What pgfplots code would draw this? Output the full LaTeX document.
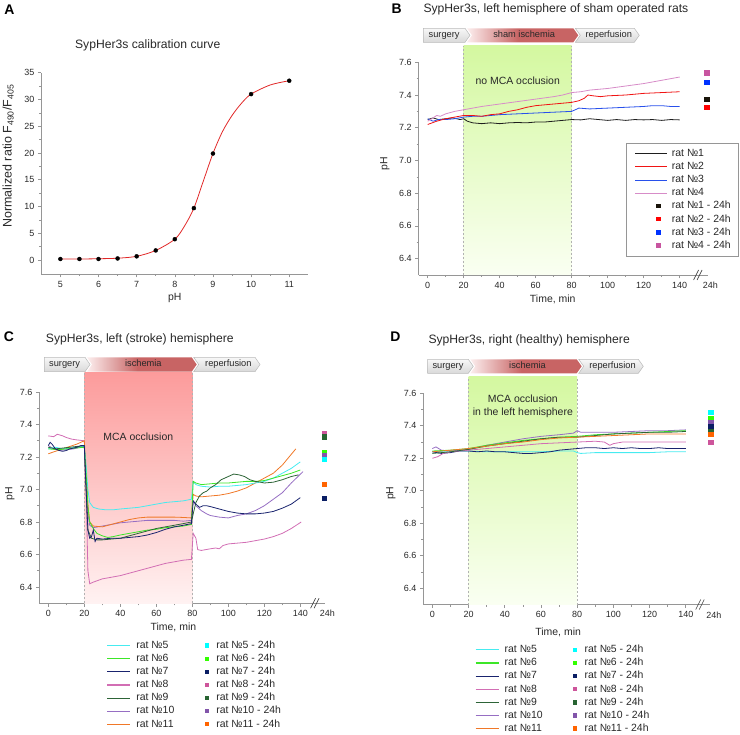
\documentclass[border=0pt]{standalone}
\usepackage{fontspec}
\setmainfont{Liberation Sans}
\usepackage{pgfplots}
\pgfplotsset{compat=1.18}

\definecolor{axgray}{RGB}{150,150,150}
\definecolor{txt}{RGB}{40,40,40}
\definecolor{r1}{RGB}{30,30,30}
\definecolor{r2}{RGB}{240,20,20}
\definecolor{r3}{RGB}{40,80,235}
\definecolor{r4}{RGB}{215,140,200}
\definecolor{s1}{RGB}{25,20,10}
\definecolor{s2}{RGB}{255,0,0}
\definecolor{s3}{RGB}{0,50,255}
\definecolor{s4}{RGB}{200,85,160}
\definecolor{c5}{RGB}{70,235,240}
\definecolor{c6}{RGB}{60,230,40}
\definecolor{c7}{RGB}{25,35,110}
\definecolor{c8}{RGB}{210,110,180}
\definecolor{c9}{RGB}{45,100,55}
\definecolor{c10}{RGB}{150,110,195}
\definecolor{c11}{RGB}{240,120,40}
\definecolor{q5}{RGB}{0,255,255}
\definecolor{q6}{RGB}{50,255,0}
\definecolor{q7}{RGB}{10,30,100}
\definecolor{q8}{RGB}{205,85,155}
\definecolor{q9}{RGB}{40,100,50}
\definecolor{q10}{RGB}{130,85,170}
\definecolor{q11}{RGB}{255,100,0}
\definecolor{gTop}{RGB}{212,248,160}
\definecolor{gBot}{RGB}{250,255,242}
\definecolor{pTop}{RGB}{252,155,155}
\definecolor{pBot}{RGB}{255,242,242}
\definecolor{bannerL}{RGB}{252,238,238}
\definecolor{bannerR}{RGB}{200,100,100}
\definecolor{acurve}{RGB}{225,40,40}

\pgfdeclarehorizontalshading{isch}{100bp}{color(0bp)=(bannerL); color(25bp)=(bannerL); color(48bp)=(bannerR); color(100bp)=(bannerR)}

\newcommand{\tfont}{\fontsize{9}{10}\selectfont}
\newcommand{\lfont}{\fontsize{10.5}{12}\selectfont}
\newcommand{\bfont}{\fontsize{9.3}{11}\selectfont}
\newcommand{\ttfont}{\fontsize{12.2}{14}\selectfont}

\newcommand{\lnimgB}[1]{\addlegendimage{legend image code/.code={\path[draw=none,fill=none] (-5bp,-2bp) rectangle (33.7bp,2bp); \draw[draw=#1,fill=none,line width=0.9bp] (0bp,0bp) -- (31.7bp,0bp);}}}
\newcommand{\sqimgB}[1]{\addlegendimage{legend image code/.code={\path[draw=none,fill=none] (-5bp,-2bp) rectangle (33.7bp,2bp); \fill[fill=#1,draw=none] (21.1bp,-2.2bp) rectangle (25.5bp,2.2bp);}}}
\newcommand{\lnimg}[1]{\addlegendimage{legend image code/.code={\path[draw=none,fill=none] (0bp,-2bp) rectangle (26bp,2bp); \draw[draw=#1,fill=none,line width=1.1bp] (0bp,0bp) -- (23bp,0bp);}}}
\newcommand{\sqimg}[1]{\addlegendimage{legend image code/.code={\path[draw=none,fill=none] (-2.5bp,-2bp) rectangle (6.5bp,2bp); \fill[fill=#1,draw=none] (-2.2bp,-2.2bp) rectangle (2.2bp,2.2bp);}}}

\newcommand{\banner}[7]{%
 \begin{scope}[x=1bp,y=1bp]
 \pgfmathsetmacro{\ym}{(#5+#6)/2}%
 \draw[draw=gray!55, line width=0.5bp, top color=gray!6, bottom color=gray!30] (#1,#5) -- ({#2-5},#5) -- (#2,\ym) -- ({#2-5},#6) -- (#1,#6) -- cycle;
 \shade[shading=isch] ({#2-3},#5) -- ({#3-5},#5) -- (#3,\ym) -- ({#3-5},#6) -- ({#2-3},#6) -- ({#2+2},\ym) -- cycle;
 \draw[draw=gray!55, line width=0.5bp, top color=gray!6, bottom color=gray!30] ({#3-3},#5) -- ({#4-5},#5) -- (#4,\ym) -- ({#4-5},#6) -- ({#3-3},#6) -- ({#3+2},\ym) -- cycle;
 \node[font=\bfont, text=txt, inner sep=0pt, text height=6.7bp, text depth=1.9bp] at ({(#1+#2-5)/2},\ym) {surgery};
 \node[font=\bfont, text=txt, inner sep=0pt, text height=6.7bp, text depth=1.9bp] at ({(#2+#3)/2},\ym) {#7};
 \node[font=\bfont, text=txt, inner sep=0pt, text height=6.7bp, text depth=1.9bp] at ({(#3+#4)/2},\ym) {reperfusion};
 \end{scope}
}

\pgfplotsset{
 base/.style={scale only axis, axis lines=left, axis line style={-, draw=axgray, line width=0.6bp},
   tick style={draw=axgray, line width=0.6bp}, tick align=outside, major tick length=3.5bp, minor tick length=2bp,
   tick label style={font=\tfont, text=txt}, label style={font=\lfont, text=txt},
   /pgf/number format/assume math mode=true, clip=false, anchor=south west},
 tax/.style={base, xmin=-5, ymin=6.3, ymax=7.6, xtick={0,20,40,60,80,100,120,140},
   ytick={6.4,6.6,6.8,7.0,7.2,7.4,7.6}, minor x tick num=1, minor y tick num=1,
   yticklabel style={/pgf/number format/.cd, fixed, fixed zerofill, precision=1},
   ylabel={pH}, xlabel={Time, min}},
 tr/.style={line width=0.8bp, forget plot},
 sq/.style={only marks, mark=square*, mark size=2.2bp, mark options={draw=none}, forget plot},
}

\begin{document}
\begin{tikzpicture}
\path[use as bounding box] (0bp,0bp) rectangle (740bp,735bp);

\begin{scope}[x=1bp,y=1bp]
\node[font=\fontsize{14}{16}\selectfont\bfseries] at (9.5,725) {A};
\node[font=\fontsize{14}{16}\selectfont\bfseries] at (396.7,726) {B};
\node[font=\fontsize{14}{16}\selectfont\bfseries] at (9,398) {C};
\node[font=\fontsize{14}{16}\selectfont\bfseries] at (395.3,398) {D};
\node[font=\ttfont, text=txt] at (147.7,690) {SypHer3s calibration curve};
\node[font=\ttfont, text=txt, anchor=west, inner sep=0pt] at (423.3,726) {SypHer3s, left hemisphere of sham operated rats};
\node[font=\ttfont, text=txt, anchor=west, inner sep=0pt] at (45.7,396) {SypHer3s, left (stroke) hemisphere};
\node[font=\ttfont, text=txt, anchor=west, inner sep=0pt] at (428.3,395) {SypHer3s, right (healthy) hemisphere};
\end{scope}

% ---------- Panel A ----------
\begin{axis}[base, at={(41.3bp,461bp)}, width=267bp, height=201.3bp,
  xmin=4.5, xmax=11.5, ymin=-2.6, ymax=35, xtick={5,6,7,8,9,10,11}, ytick={0,5,10,15,20,25,30,35},
  minor x tick num=1, minor y tick num=1,
  xlabel={pH}, ylabel={Normalized ratio F\textsubscript{490}/F\textsubscript{405}},
  ylabel style={at={(axis description cs:-0.124,0.586)}, anchor=center, font=\fontsize{12.5}{14}\selectfont},
  xlabel style={at={(axis description cs:0.5,-0.121)}, anchor=center}]
\addplot[acurve, line width=0.8bp, smooth, tension=0.5] coordinates {
 (5,0.2) (5.5,0.2) (6,0.25) (6.5,0.35) (7,0.7) (7.5,1.8) (8,3.9) (8.25,6.3) (8.5,9.7)
 (8.75,14.8) (9,19.9) (9.25,24.0) (9.5,27.0) (9.75,29.3) (10,31.0) (10.5,32.7) (11,33.5)};
\addplot[only marks, mark=*, mark size=2bp, black] coordinates {
 (5,0.2) (5.5,0.2) (6,0.2) (6.5,0.3) (7,0.7) (7.5,1.8) (8,3.9) (8.5,9.7) (9,19.9) (10,31.0) (11,33.5)};
\end{axis}

% ---------- Panel B ----------
\banner{423.3}{470}{578.3}{639.3}{706.7}{692.7}{sham ischemia}
\begin{axis}[tax, at={(418.7bp,460bp)}, width=288.9bp, height=212.7bp, xmax=155.5,
  ylabel style={at={(axis description cs:-0.117,0.525)}, anchor=center},
  xlabel style={at={(axis description cs:0.464,-0.113)}, anchor=center},
  legend style={at={(axis description cs:1.1052,0.6192)}, anchor=north east, draw=axgray, fill=white,
    font=\lfont, text=txt, cells={anchor=west}, inner xsep=4bp, inner ysep=4bp, row sep=0.5bp,
    nodes={inner xsep=3bp, inner ysep=1.5bp, text height=7.6bp, text depth=2bp}}]
\addplot[draw=none, top color=gTop, bottom color=gBot, forget plot] coordinates {(20,6.3) (80,6.3) (80,7.7) (20,7.7)} -- cycle;
\addplot[gray!60, dash pattern=on 2bp off 2bp, line width=0.5bp, forget plot] coordinates {(20,6.3) (20,7.7)};
\addplot[gray!60, dash pattern=on 2bp off 2bp, line width=0.5bp, forget plot] coordinates {(80,6.3) (80,7.7)};
\node[font=\lfont, text=txt] at (axis cs:50,7.49) {no MCA occlusion};
\addplot[tr, r1] coordinates {(0,7.25) (3,7.26) (6,7.25) (10,7.255) (14,7.26) (18,7.25) (20,7.255) (22,7.24) (25,7.23) (30,7.225) (35,7.23) (40,7.225) (45,7.23) (50,7.232) (55,7.23) (60,7.235) (65,7.235) (70,7.24) (75,7.245) (80,7.25) (85,7.248) (90,7.255) (95,7.25) (100,7.245) (105,7.25) (110,7.245) (115,7.25) (120,7.248) (125,7.25) (130,7.245) (135,7.25) (140,7.248)};
\addplot[tr, r3] coordinates {(0,7.255) (3,7.24) (6,7.25) (10,7.25) (15,7.255) (20,7.265) (25,7.27) (30,7.27) (40,7.28) (50,7.285) (60,7.29) (70,7.295) (80,7.30) (82,7.31) (84,7.32) (90,7.315) (100,7.32) (110,7.325) (120,7.33) (125,7.335) (130,7.335) (135,7.33) (140,7.33)};
\addplot[tr, r2] coordinates {(0,7.22) (5,7.24) (10,7.255) (15,7.265) (20,7.275) (25,7.275) (30,7.27) (35,7.28) (40,7.285) (45,7.30) (50,7.31) (55,7.325) (60,7.335) (65,7.34) (70,7.345) (75,7.35) (80,7.355) (84,7.365) (87,7.38) (89,7.40) (92,7.395) (96,7.39) (100,7.395) (110,7.40) (120,7.41) (130,7.415) (140,7.42)};
\addplot[tr, r4] coordinates {(0,7.24) (3,7.26) (5,7.275) (7,7.27) (10,7.285) (15,7.30) (20,7.31) (30,7.33) (40,7.345) (50,7.36) (60,7.375) (70,7.39) (75,7.40) (80,7.415) (85,7.42) (90,7.43) (100,7.44) (110,7.455) (120,7.47) (130,7.49) (135,7.50) (140,7.51)};
\addplot[sq, s1] coordinates {(154.9,7.374)};
\addplot[sq, s2] coordinates {(154.9,7.325)};
\addplot[sq, s3] coordinates {(154.9,7.48)};
\addplot[sq, s4] coordinates {(154.9,7.536)};
\draw[black!75, line width=0.6bp] (axis cs:150.2,6.3) ++(-4.5bp,-5bp) -- ++(5bp,10bp);
\draw[black!75, line width=0.6bp] (axis cs:150.2,6.3) ++(-1bp,-5bp) -- ++(5bp,10bp);
\node[font=\tfont, text=txt, anchor=north, yshift=-3.5bp] at (axis cs:157,6.3) {24h};
\lnimgB{r1}\addlegendentry{rat №1}
\lnimgB{r2}\addlegendentry{rat №2}
\lnimgB{r3}\addlegendentry{rat №3}
\lnimgB{r4}\addlegendentry{rat №4}
\sqimgB{s1}\addlegendentry{rat №1 - 24h}
\sqimgB{s2}\addlegendentry{rat №2 - 24h}
\sqimgB{s3}\addlegendentry{rat №3 - 24h}
\sqimgB{s4}\addlegendentry{rat №4 - 24h}
\end{axis}

% ---------- Panel C ----------
\banner{44.3}{90}{196.7}{260}{377.7}{363.3}{ischemia}
\begin{axis}[tax, at={(39.3bp,131.75bp)}, width=285.3bp, height=211.25bp, xmax=153.5,
  ylabel style={at={(axis description cs:-0.103,0.52)}, anchor=center},
  xlabel style={at={(axis description cs:0.47,-0.116)}, anchor=center},
  legend columns=2,
  legend style={at={(axis description cs:0.236,-0.170)}, anchor=north west, draw=none, fill=none,
    font=\lfont, text=txt, cells={anchor=west}, inner sep=0pt, row sep=0.5bp,
    nodes={inner xsep=3bp, inner ysep=1.5bp, text height=7.6bp, text depth=2bp},
    /tikz/every even column/.append style={column sep=27bp}}]
\addplot[draw=none, top color=pTop, bottom color=pBot, forget plot] coordinates {(20,6.3) (80,6.3) (80,7.723) (20,7.723)} -- cycle;
\addplot[gray!60, dash pattern=on 2bp off 2bp, line width=0.5bp, forget plot] coordinates {(20,6.3) (20,7.723)};
\addplot[gray!60, dash pattern=on 2bp off 2bp, line width=0.5bp, forget plot] coordinates {(80,6.3) (80,7.723)};
\node[font=\lfont, text=txt] at (axis cs:50,7.325) {MCA occlusion};
\addplot[tr, c8] coordinates {(0,7.33) (3,7.325) (5,7.34) (8,7.33) (10,7.32) (13,7.31) (16,7.305) (20,7.30) (21,7.0) (22,6.50) (23,6.42) (25,6.43) (30,6.45) (35,6.46) (40,6.47) (45,6.485) (50,6.50) (55,6.515) (60,6.53) (65,6.545) (70,6.555) (75,6.565) (79.5,6.57) (80.5,6.73) (82,6.70) (83,6.63) (85,6.625) (90,6.635) (93,6.64) (95,6.635) (97,6.655) (100,6.665) (105,6.67) (110,6.675) (115,6.685) (120,6.695) (125,6.71) (130,6.73) (135,6.76) (140.5,6.80)};
\addplot[tr, c10] coordinates {(0,7.27) (3,7.25) (6,7.24) (10,7.245) (14,7.25) (18,7.26) (20,7.265) (21,7.05) (22,6.85) (23,6.78) (25,6.765) (30,6.775) (35,6.785) (40,6.795) (45,6.80) (50,6.805) (55,6.81) (60,6.81) (65,6.81) (70,6.81) (75,6.805) (79.5,6.81) (80.5,6.93) (82,6.90) (85,6.87) (88,6.85) (90,6.84) (95,6.83) (100,6.825) (105,6.84) (110,6.85) (115,6.87) (120,6.90) (125,6.94) (130,6.98) (135,7.04) (141.5,7.11)};
\addplot[tr, c11] coordinates {(0,7.22) (4,7.235) (8,7.25) (12,7.265) (16,7.28) (20,7.30) (21,7.1) (22,6.90) (23,6.80) (25,6.775) (30,6.77) (35,6.785) (40,6.80) (45,6.815) (50,6.825) (55,6.83) (60,6.83) (65,6.83) (70,6.83) (75,6.828) (79.5,6.825) (80.5,6.97) (82,6.96) (85,6.955) (90,6.96) (95,6.965) (100,6.975) (105,6.99) (110,7.01) (115,7.04) (120,7.07) (125,7.10) (130,7.15) (137.5,7.25)};
\addplot[tr, c5] coordinates {(0,7.25) (4,7.26) (8,7.25) (12,7.255) (16,7.26) (20,7.265) (21,7.15) (22,7.0) (23,6.92) (25,6.89) (28,6.88) (32,6.875) (36,6.875) (40,6.88) (45,6.885) (50,6.89) (55,6.90) (60,6.91) (65,6.92) (70,6.925) (75,6.93) (79.5,6.94) (80.5,7.05) (82,7.03) (85,7.02) (90,7.015) (95,7.02) (100,7.02) (105,7.025) (110,7.03) (115,7.04) (120,7.05) (125,7.07) (130,7.10) (135,7.13) (140,7.17)};
\addplot[tr, c6] coordinates {(0,7.25) (5,7.245) (10,7.25) (15,7.255) (20,7.26) (21,7.1) (22,6.9) (23,6.80) (25,6.76) (27,6.73) (30,6.715) (33,6.705) (36,6.71) (40,6.72) (45,6.73) (50,6.74) (55,6.75) (60,6.755) (65,6.765) (70,6.77) (75,6.775) (79.5,6.785) (80.5,7.05) (82,7.04) (85,7.03) (90,7.035) (95,7.04) (100,7.04) (105,7.045) (110,7.05) (115,7.05) (120,7.055) (125,7.07) (130,7.085) (135,7.10) (140,7.12)};
\addplot[tr, c9] coordinates {(0,7.26) (4,7.25) (8,7.255) (12,7.26) (16,7.265) (20,7.27) (21,7.0) (22,6.75) (24,6.70) (27,6.69) (30,6.69) (35,6.695) (40,6.70) (45,6.715) (50,6.73) (55,6.745) (60,6.76) (65,6.77) (70,6.78) (75,6.79) (79.5,6.80) (80.5,6.85) (82,6.92) (84,6.96) (86,6.98) (88,6.99) (90,7.01) (93,7.03) (96,7.06) (100,7.08) (103,7.095) (106,7.09) (109,7.08) (112,7.06) (115,7.05) (118,7.045) (120,7.04) (125,7.045) (130,7.06) (135,7.08) (139,7.09)};
\addplot[tr, c7] coordinates {(0,7.27) (1,7.29) (2,7.28) (4,7.25) (6,7.24) (8,7.235) (10,7.24) (12,7.25) (14,7.255) (16,7.26) (18,7.27) (20,7.27) (21,7.0) (22,6.75) (23,6.70) (24,6.71) (25,6.75) (26,6.68) (27,6.70) (30,6.695) (35,6.70) (40,6.70) (45,6.705) (50,6.71) (55,6.72) (60,6.735) (65,6.755) (70,6.77) (75,6.78) (79.5,6.79) (80.5,6.93) (82,6.91) (84,6.89) (86,6.90) (88,6.90) (90,6.895) (95,6.88) (100,6.865) (105,6.855) (110,6.85) (115,6.85) (120,6.855) (125,6.865) (130,6.885) (135,6.91) (140,6.95)};
\addplot[sq, q8] coordinates {(153.3,7.345)};
\addplot[sq, q9] coordinates {(153.3,7.325)};
\addplot[sq, q6] coordinates {(153.3,7.231)};
\addplot[sq, q10] coordinates {(153.3,7.212)};
\addplot[sq, q5] coordinates {(153.3,7.188)};
\addplot[sq, q11] coordinates {(153.3,7.032)};
\addplot[sq, q7] coordinates {(153.3,6.946)};
\draw[black!75, line width=0.6bp] (axis cs:148.2,6.3) ++(-4.5bp,-5bp) -- ++(5bp,10bp);
\draw[black!75, line width=0.6bp] (axis cs:148.2,6.3) ++(-1bp,-5bp) -- ++(5bp,10bp);
\node[font=\tfont, text=txt, anchor=north, yshift=-3.5bp] at (axis cs:155,6.3) {24h};
\lnimg{c5}\addlegendentry{rat №5}
\sqimg{q5}\addlegendentry{rat №5 - 24h}
\lnimg{c6}\addlegendentry{rat №6}
\sqimg{q6}\addlegendentry{rat №6 - 24h}
\lnimg{c7}\addlegendentry{rat №7}
\sqimg{q7}\addlegendentry{rat №7 - 24h}
\lnimg{c8}\addlegendentry{rat №8}
\sqimg{q8}\addlegendentry{rat №8 - 24h}
\lnimg{c9}\addlegendentry{rat №9}
\sqimg{q9}\addlegendentry{rat №9 - 24h}
\lnimg{c10}\addlegendentry{rat №10}
\sqimg{q10}\addlegendentry{rat №10 - 24h}
\lnimg{c11}\addlegendentry{rat №11}
\sqimg{q11}\addlegendentry{rat №11 - 24h}
\end{axis}

% ---------- Panel D ----------
\banner{427.7}{473.3}{581.7}{643.3}{375.7}{361.7}{ischemia}
\begin{axis}[tax, at={(423.3bp,130.45bp)}, width=286.9bp, height=211.25bp, xmax=153.5,
  ylabel style={at={(axis description cs:-0.113,0.527)}, anchor=center},
  xlabel style={at={(axis description cs:0.47,-0.131)}, anchor=center},
  legend columns=2,
  legend style={at={(axis description cs:0.18,-0.184)}, anchor=north west, draw=none, fill=none,
    font=\lfont, text=txt, cells={anchor=west}, inner sep=0pt, row sep=0.5bp,
    nodes={inner xsep=3bp, inner ysep=1.5bp, text height=7.6bp, text depth=2bp},
    /tikz/every even column/.append style={column sep=27bp}}]
\addplot[draw=none, top color=gTop, bottom color=gBot, forget plot] coordinates {(20,6.3) (80,6.3) (80,7.702) (20,7.702)} -- cycle;
\addplot[gray!60, dash pattern=on 2bp off 2bp, line width=0.5bp, forget plot] coordinates {(20,6.3) (20,7.702)};
\addplot[gray!60, dash pattern=on 2bp off 2bp, line width=0.5bp, forget plot] coordinates {(80,6.3) (80,7.702)};
\node[font=\lfont, text=txt, align=center] at (axis cs:50,7.52) {MCA occlusion\\[1bp]in the left hemisphere};
\addplot[tr, c5] coordinates {(0,7.24) (10,7.245) (20,7.245) (30,7.24) (40,7.24) (50,7.24) (60,7.24) (70,7.245) (78,7.245) (80,7.235) (82,7.23) (90,7.235) (100,7.235) (110,7.235) (120,7.235) (130,7.24) (140,7.24)};
\addplot[tr, c7] coordinates {(0,7.24) (5,7.23) (10,7.235) (15,7.245) (20,7.245) (25,7.24) (30,7.245) (35,7.24) (40,7.24) (45,7.235) (50,7.23) (55,7.23) (60,7.235) (65,7.24) (70,7.25) (75,7.255) (80,7.26) (85,7.265) (90,7.265) (95,7.26) (100,7.265) (105,7.26) (110,7.265) (115,7.26) (120,7.26) (125,7.265) (130,7.26) (135,7.26) (140,7.26)};
\addplot[tr, c8] coordinates {(0,7.20) (3,7.21) (6,7.23) (10,7.24) (15,7.245) (20,7.25) (30,7.26) (40,7.27) (50,7.28) (60,7.29) (70,7.295) (80,7.30) (90,7.305) (95,7.30) (98,7.28) (100,7.29) (105,7.30) (110,7.30) (120,7.30) (130,7.30) (140,7.30)};
\addplot[tr, c10] coordinates {(0,7.26) (2,7.27) (5,7.25) (10,7.245) (20,7.255) (30,7.28) (40,7.30) (50,7.32) (60,7.335) (70,7.345) (78,7.355) (80,7.37) (82,7.36) (90,7.36) (100,7.36) (110,7.365) (120,7.37) (130,7.37) (140,7.375)};
\addplot[tr, c6] coordinates {(0,7.245) (10,7.25) (20,7.26) (30,7.28) (40,7.295) (50,7.31) (60,7.32) (70,7.33) (80,7.335) (90,7.345) (100,7.35) (110,7.355) (120,7.36) (130,7.365) (140,7.37)};
\addplot[tr, c9] coordinates {(0,7.23) (10,7.24) (20,7.255) (30,7.275) (40,7.29) (50,7.305) (60,7.32) (70,7.33) (80,7.33) (90,7.34) (100,7.35) (110,7.355) (120,7.36) (130,7.36) (140,7.365)};
\addplot[tr, c11] coordinates {(0,7.24) (10,7.25) (20,7.26) (30,7.275) (40,7.29) (50,7.30) (60,7.315) (70,7.325) (80,7.33) (90,7.335) (100,7.34) (110,7.345) (120,7.35) (130,7.35) (140,7.35)};
\addplot[sq, q5] coordinates {(153.8,7.483)};
\addplot[sq, q6] coordinates {(153.8,7.446)};
\addplot[sq, q10] coordinates {(153.8,7.419)};
\addplot[sq, q7] coordinates {(153.8,7.399)};
\addplot[sq, q9] coordinates {(153.8,7.368)};
\addplot[sq, q11] coordinates {(153.8,7.350)};
\addplot[sq, q8] coordinates {(153.8,7.298)};
\draw[black!75, line width=0.6bp] (axis cs:148,6.3) ++(-4.5bp,-5bp) -- ++(5bp,10bp);
\draw[black!75, line width=0.6bp] (axis cs:148,6.3) ++(-1bp,-5bp) -- ++(5bp,10bp);
\node[font=\tfont, text=txt, anchor=north, yshift=-3.5bp] at (axis cs:155.5,6.3) {24h};
\lnimg{c5}\addlegendentry{rat №5}
\sqimg{q5}\addlegendentry{rat №5 - 24h}
\lnimg{c6}\addlegendentry{rat №6}
\sqimg{q6}\addlegendentry{rat №6 - 24h}
\lnimg{c7}\addlegendentry{rat №7}
\sqimg{q7}\addlegendentry{rat №7 - 24h}
\lnimg{c8}\addlegendentry{rat №8}
\sqimg{q8}\addlegendentry{rat №8 - 24h}
\lnimg{c9}\addlegendentry{rat №9}
\sqimg{q9}\addlegendentry{rat №9 - 24h}
\lnimg{c10}\addlegendentry{rat №10}
\sqimg{q10}\addlegendentry{rat №10 - 24h}
\lnimg{c11}\addlegendentry{rat №11}
\sqimg{q11}\addlegendentry{rat №11 - 24h}
\end{axis}
\end{tikzpicture}
\end{document}
